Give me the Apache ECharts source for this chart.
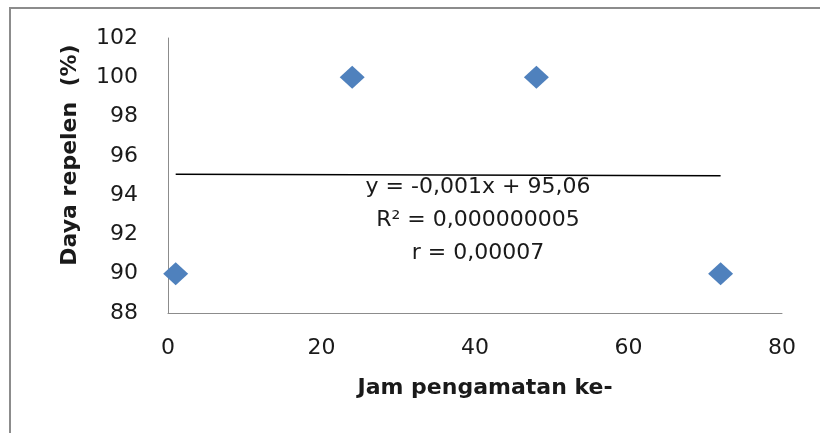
<!DOCTYPE html>
<html>
<head>
<meta charset="utf-8">
<script src="https://cdn.jsdelivr.net/npm/echarts@6/dist/echarts.min.js"></script>
<style>
  html, body { margin: 0; padding: 0; background: #fff; }
  #chart { width: 820px; height: 433px; }
</style>
</head>
<body>
<div id="chart"></div>
<script>
// observed data: hour of observation vs repellent power (%)
const hours = [1, 24, 48, 72]
const repelen = [90, 100, 100, 90]

// linear trendline endpoints (y = -0,001x + 95,06)
const trendX = [1, 72]
const trendY = [95.059, 94.988]

const xTicks = [0, 20, 40, 60, 80]
const yTicks = [88, 90, 92, 94, 96, 98, 100, 102]

const eqLines = ['y = -0,001x + 95,06', 'R² = 0,000000005', 'r = 0,00007']

const chart = echarts.init(document.getElementById('chart'))

const font = 'DejaVu Sans'
const textColor = '#1a1a1a'

const option = {
  animation: false,
  grid: { left: 168, top: 38, right: 38, bottom: 120 },
  xAxis: {
    type: 'value',
    min: xTicks[0],
    max: xTicks[xTicks.length - 1],
    interval: 20,
    splitLine: { show: false },
    axisTick: { show: false },
    axisLine: { lineStyle: { color: '#8c8c8c', width: 1 } },
    axisLabel: { color: textColor, fontFamily: font, fontSize: 22, margin: 24 },
  },
  yAxis: {
    type: 'value',
    min: yTicks[0],
    max: yTicks[yTicks.length - 1],
    interval: 2,
    splitLine: { show: false },
    axisTick: { show: false },
    axisLine: { show: true, lineStyle: { color: '#8c8c8c', width: 1 } },
    axisLabel: { color: textColor, fontFamily: font, fontSize: 22, margin: 30 },
  },
  series: [
    {
      type: 'line',
      data: trendX.map((x, i) => [x, trendY[i]]),
      symbol: 'none',
      lineStyle: { color: '#000', width: 1.5 },
      z: 1,
    },
    {
      type: 'scatter',
      data: hours.map((h, i) => [h, repelen[i]]),
      symbol: 'diamond',
      symbolSize: [25, 23],
      itemStyle: { color: '#4f81bd', opacity: 1 },
      z: 3,
    },
  ],
  graphic: [
    {
      type: 'rect',
      shape: { x: 10, y: 8, width: 900, height: 500 },
      style: { fill: 'none', stroke: '#8c8c8c', lineWidth: 2 },
      silent: true,
    },
    {
      type: 'text',
      x: 70,
      y: 155,
      rotation: Math.PI / 2,
      style: {
        text: 'Daya repelen  (%)',
        fontFamily: font,
        fontSize: 22,
        fontWeight: 'bold',
        fill: textColor,
        align: 'center',
        verticalAlign: 'middle',
      },
    },
    {
      type: 'text',
      x: 485,
      y: 388,
      style: {
        text: 'Jam pengamatan ke-',
        fontFamily: font,
        fontSize: 22,
        fontWeight: 'bold',
        fill: textColor,
        align: 'center',
        verticalAlign: 'middle',
      },
    },
    ...eqLines.map((t, i) => ({
      type: 'text',
      x: 478,
      y: 187 + i * 33,
      style: {
        text: t,
        fontFamily: font,
        fontSize: 22,
        fill: textColor,
        align: 'center',
        verticalAlign: 'middle',
      },
    })),
  ],
}

chart.setOption(option)
</script>
</body>
</html>
